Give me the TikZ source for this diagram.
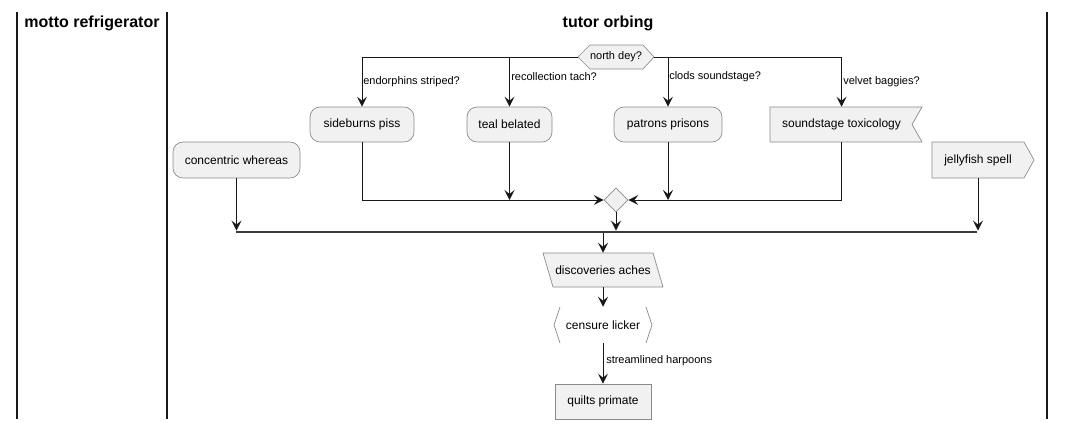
\documentclass[tikz,border=0pt]{standalone}
\usepackage{fontspec}
\setmainfont{Liberation Sans}
\usetikzlibrary{arrows.meta,shapes.geometric}
\definecolor{boxfill}{HTML}{F1F1F1}
\definecolor{boxline}{HTML}{8A8A8A}
\definecolor{ink}{HTML}{181818}
\tikzset{
  x=0.75pt, y=-0.75pt,
  act/.style={draw=boxline, fill=boxfill, rounded corners=7.5pt, line width=0.5pt, font=\fontsize{9}{10}\selectfont, inner sep=0pt},
  plain/.style={draw=none, fill=none, font=\fontsize{9}{10}\selectfont, inner sep=0pt},
  outline/.style={draw=boxline, fill=boxfill, line width=0.5pt},
  conn/.style={draw=ink, line width=0.75pt, -{Stealth[length=7.5pt,width=7.5pt,inset=3pt]}},
  line/.style={draw=ink, line width=0.75pt},
  lbl/.style={font=\fontsize{8.25}{9}\selectfont, inner sep=0pt, anchor=west},
  lane/.style={draw=ink, line width=1.3pt},
  title/.style={font=\bfseries\fontsize{12}{14}\selectfont, inner sep=0pt}
}
\begin{document}
\begin{tikzpicture}
\useasboundingbox (0,0) rectangle (1066,430);
% swimlanes
\draw[lane] (17,12) -- (17,419);
\draw[lane] (167,12) -- (167,419);
\draw[lane] (1047,12) -- (1047,419);
\node[title] (t1) at (92,23) {motto refrigerator};
\node[title] (t2) at (608,23) {tutor orbing};

% decision hexagon
\node[plain, minimum width=76pt*0.75, minimum height=18pt, font=\fontsize{8.25}{9}\selectfont] (nd) at (616,57) {};
\filldraw[outline] (578,57) -- (590,45) -- (643,45) -- (654,57) -- (643,69) -- (590,69) -- cycle;
\node[font=\fontsize{8.25}{9}\selectfont, inner sep=0pt] at (616,57) {north dey?};
\coordinate (ndw) at (578,57);
\coordinate (nde) at (654,57);

% branch activities
\node[act, minimum width=78pt, minimum height=26.25pt] (sb) at (362,124.5) {sideburns piss};
\node[act, minimum width=63.75pt, minimum height=26.25pt] (tb) at (509.5,124.5) {teal belated};
\node[act, minimum width=81pt, minimum height=26.25pt] (pp) at (668,124.5) {patrons prisons};
\node[plain, minimum width=107pt, minimum height=26.25pt] (st) at (841.5,124.5) {};
\filldraw[outline] (770,107) -- (922,107) -- (912,124.5) -- (922,142) -- (770,142) -- cycle;
\node[plain] at (841.5,124.5) {soundstage toxicology};

% side activities
\node[act, minimum width=95.25pt, minimum height=27pt] (cw) at (236.5,160) {concentric whereas};
\node[plain, minimum width=69pt, minimum height=27pt] (js) at (978,160) {};
\filldraw[outline] (932,142) -- (1024,142) -- (1034,160) -- (1024,178) -- (932,178) -- cycle;
\node[plain] at (978,160) {jellyfish spell};

% merge diamond
\node[diamond, draw=boxline, fill=boxfill, line width=0.5pt, inner sep=0pt, minimum width=18pt, minimum height=18pt] (md) at (616,200) {};

% bar
\node[draw=none, fill=ink!85, minimum width=555.75pt, minimum height=1.8pt, inner sep=0pt] (bar) at (606.5,232) {};

% lower chain
\node[plain, minimum width=90pt, minimum height=25.5pt] (da) at (603,270) {};
\filldraw[outline] (543,253) -- (653,253) -- (663,287) -- (553,287) -- cycle;
\node[plain] at (603,270) {discoveries aches};
\node[plain, minimum width=73.5pt, minimum height=27pt] (cl) at (603,325) {censure licker};
\draw[boxline, line width=0.5pt] (560,307) -- (554,325) -- (560,343);
\draw[boxline, line width=0.5pt] (646,307) -- (652,325) -- (646,343);
\node[draw=boxline, fill=boxfill, line width=0.5pt, minimum width=72pt, minimum height=26.25pt, inner sep=0pt, font=\fontsize{9}{10}\selectfont] (qp) at (603,401.5) {quilts primate};

% branches from decision
\draw[conn] (ndw) -| (sb.north);
\draw[conn] (ndw) -| (tb.north);
\draw[conn] (nde) -| (pp.north);
\draw[conn] (nde) -| (st.north);
\node[lbl] (l1) at (363,82) {endorphins striped?};
\node[lbl] (l2) at (511,77) {recollection tach?};
\node[lbl] (l3) at (669,77) {clods soundstage?};
\node[lbl] (l4) at (843,82) {velvet baggies?};

% into merge
\draw[conn] (sb.south) |- (md.west);
\draw[conn] (st.south) |- (md.east);
\draw[conn] (tb.south) -- (tb.south |- md.west);
\draw[conn] (pp.south) -- (pp.south |- md.east);

% into bar
\draw[conn] (md.south) -- (md.south |- bar.north);
\draw[conn] (cw.south) -- (cw.south |- bar.north);
\draw[conn] (js.south) -- (js.south |- bar.north);

% lower
\draw[conn] (da.north |- bar.south) -- (da.north);
\draw[conn] (da.south) -- (cl.north);
\draw[conn] (cl.south) -- (qp.north);
\node[lbl] (l5) at (606,361) {streamlined harpoons};
\end{tikzpicture}
\end{document}
